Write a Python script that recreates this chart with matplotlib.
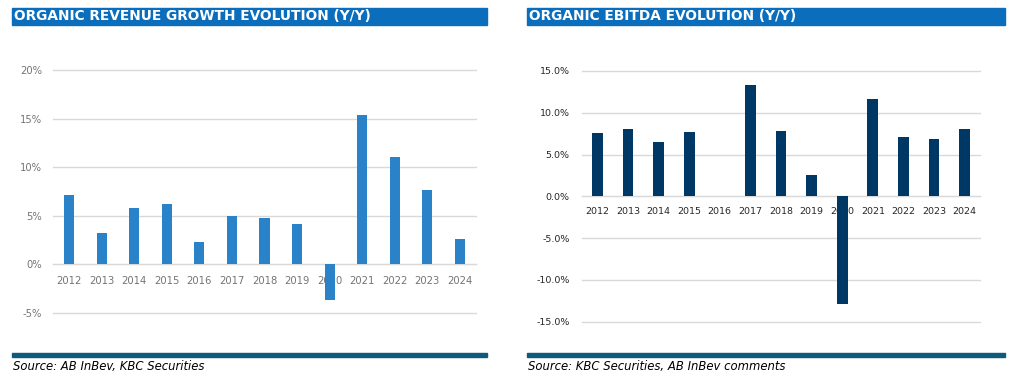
import matplotlib.pyplot as plt
from matplotlib.patches import Rectangle
from matplotlib.ticker import FuncFormatter, MultipleLocator

years = ['2012', '2013', '2014', '2015', '2016', '2017', '2018',
         '2019', '2020', '2021', '2022', '2023', '2024']
revenue_growth = [7.1, 3.2, 5.8, 6.2, 2.3, 5.0, 4.8, 4.2, -3.7, 15.4, 11.1, 7.7, 2.6]
ebitda_growth = [7.6, 8.0, 6.5, 7.7, 0.0, 13.3, 7.8, 2.6, -12.9, 11.7, 7.1, 6.9, 8.1]

left_title = 'ORGANIC REVENUE GROWTH EVOLUTION (Y/Y)'
right_title = 'ORGANIC EBITDA EVOLUTION (Y/Y)'
left_source = 'Source: AB InBev, KBC Securities'
right_source = 'Source: KBC Securities, AB InBev comments'

W, H = 1012, 382
fig = plt.figure(figsize=(W / 100, H / 100), dpi=100)
plt.rcParams['font.family'] = 'DejaVu Sans'


def px_box(x0, x1, y_top, y_bot):
    return [x0 / W, 1 - y_bot / H, (x1 - x0) / W, (y_bot - y_top) / H]


def header(x0, x1, text, source):
    fig.patches.append(Rectangle((x0 / W, 1 - 25 / H), (x1 - x0) / W, 17 / H,
                                 transform=fig.transFigure, color='#0A6EBD', zorder=0))
    fig.text((x0 + 2) / W, 1 - 16.5 / H, text, color='white', fontsize=9.9,
             fontweight='bold', va='center', ha='left')
    fig.patches.append(Rectangle((x0 / W, 1 - 356.5 / H), (x1 - x0) / W, 3.5 / H,
                                 transform=fig.transFigure, color='#0E5A7A', zorder=0))
    fig.text((x0 + 1) / W, 1 - 366.5 / H, source, color='black', fontsize=8.4,
             style='italic', va='center', ha='left')


def style_axes(ax, values, color, width, lo, hi, step, fmt, tick_color, lab_size, ypad):
    x = range(len(years))
    ax.bar(x, values, width=width, color=color, zorder=3)
    ax.set_xlim(-0.5, len(years) - 0.5)
    ax.set_ylim(lo, hi)
    ax.yaxis.set_major_locator(MultipleLocator(step))
    ax.yaxis.set_major_formatter(FuncFormatter(fmt))
    ax.grid(axis='y', color='#D9D9D9', linewidth=1, zorder=0)
    for gl in ax.get_ygridlines():
        gl.set_clip_on(False)
    for s in ax.spines.values():
        s.set_visible(False)
    ax.spines['bottom'].set_visible(True)
    ax.spines['bottom'].set_position(('data', 0))
    ax.spines['bottom'].set_color('#D9D9D9')
    ax.spines['bottom'].set_zorder(1)
    ax.set_xticks(list(x))
    ax.set_xticklabels(years)
    ax.tick_params(axis='both', length=0, colors=tick_color, labelsize=lab_size)
    ax.tick_params(axis='x', pad=8)
    ax.tick_params(axis='y', pad=ypad)
    ax.set_facecolor('none')


header(12, 487, left_title, left_source)
header(527, 1005, right_title, right_source)

ax1 = fig.add_axes(px_box(53, 476, 70, 313))
style_axes(ax1, revenue_growth, '#2A82C8', 0.31, -5, 20, 5,
           lambda v, p: f'{v:.0f}%', '#747474', 7.2, 8)

ax2 = fig.add_axes(px_box(582, 980, 71, 321.7))
style_axes(ax2, ebitda_growth, '#003865', 0.35, -15, 15, 5,
           lambda v, p: f'{v:.1f}%', '#262626', 6.8, 9)

fig.savefig('out.png', dpi=100)
